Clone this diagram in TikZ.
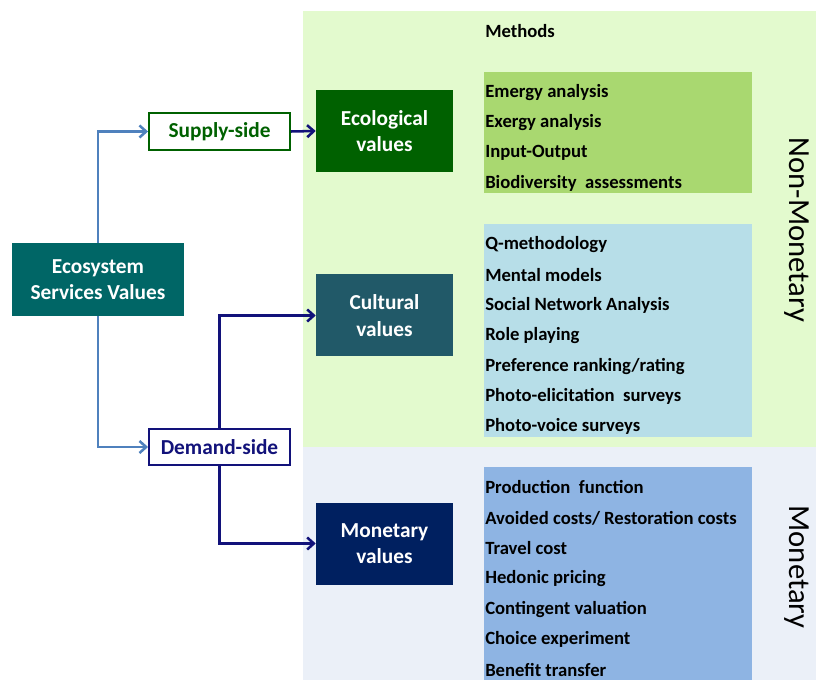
\documentclass[tikz,border=0pt]{standalone}
\usepackage{fontspec}
\setmainfont{Carlito}
\usepackage{xcolor}
\usetikzlibrary{arrows.meta}

\definecolor{panelgreen}{HTML}{E3FACE}
\definecolor{panelblue}{HTML}{EBF0F8}
\definecolor{listgreen}{HTML}{A9D870}
\definecolor{listcyan}{HTML}{B7DEE8}
\definecolor{listblue}{HTML}{8EB4E3}
\definecolor{ecogreen}{HTML}{006100}
\definecolor{culteal}{HTML}{215968}
\definecolor{monnavy}{HTML}{002060}
\definecolor{esvteal}{HTML}{006666}
\definecolor{linkblue}{HTML}{4F81BD}
\definecolor{linknavy}{HTML}{12127A}

\begin{document}
\begin{tikzpicture}[x=0.75pt, y=-0.75pt,
    valbox/.style={rectangle, text=white, font=\fontsize{16}{20}\selectfont\bfseries, align=center, minimum width=102.75pt, minimum height=61.5pt, inner sep=0pt},
    sidebox/.style={rectangle, draw, fill=white, line width=1.8pt, font=\fontsize{16}{20}\selectfont\bfseries, minimum width=105.4pt, minimum height=27.4pt, inner sep=0pt},
    method/.style={anchor=west, font=\fontsize{14}{16}\selectfont\bfseries, inner sep=0pt},
    sidelabel/.style={rotate=-90, font=\fontsize{23}{26}\selectfont},
    link/.style={-{Straight Barb[length=5pt, width=9pt]}, line width=1.9pt}
]
\useasboundingbox (0,0) rectangle (816,680);
% panels
\fill[panelgreen] (303,11) rectangle (816,447);
\fill[panelblue] (303,447) rectangle (816,680);
\fill[listgreen] (484,72) rectangle (752,193);
\fill[listcyan] (484,224) rectangle (752,437);
\fill[listblue] (484,467) rectangle (752,680);

\node[method] (methods) at (485,31) {Methods};
\node[sidelabel] (nonmon) at (797,230) {Non-Monetary};
\node[sidelabel] (mon) at (797,567) {Monetary};

% value boxes
\node[rectangle, fill=esvteal, text=white, font=\fontsize{16}{20}\selectfont\bfseries, align=center, minimum width=129pt, minimum height=54.75pt] (esv) at (98,279.5) {Ecosystem\\Services Values};
\node[sidebox, draw=ecogreen, text=ecogreen] (supply) at (219.5,131.5) {Supply-side};
\node[sidebox, draw=linknavy, text=linknavy] (demand) at (219.5,447) {Demand-side};
\node[valbox, fill=ecogreen] (eco) at (384.5,131) {Ecological\\values};
\node[valbox, fill=culteal] (cult) at (384.5,315.5) {Cultural\\values};
\node[valbox, fill=monnavy] (monval) at (384.5,543.5) {Monetary\\values};

% methods lists
\foreach \t [count=\k] in {Emergy analysis, Exergy analysis, Input-Output, Biodiversity\ \ assessments}
  \node[method] (eco\k) at (485,{92.5+(\k-1)*30.4}) {\t};
\foreach \t [count=\k] in {Q-methodology, Mental models, Social Network Analysis, Role playing, Preference ranking/rating, Photo-elicitation\ \ surveys, Photo-voice surveys}
  \node[method] (cult\k) at (485,{244.5+(\k-1)*30.4}) {\t};
\foreach \t [count=\k] in {Production\ \ function, Avoided costs/ Restoration costs, Travel cost, Hedonic pricing, Contingent valuation, Choice experiment, Benefit transfer}
  \node[method] (mon\k) at (485,{487.5+(\k-1)*30.4}) {\t};

% connectors
\draw[link, linkblue] (esv.north) |- (supply.west);
\draw[link, linkblue] (esv.south) |- (demand.west);
\draw[link, linknavy] (supply.east) -- (eco.west);
\draw[link, linknavy] (demand.north) |- (cult.west);
\draw[link, linknavy] (demand.south) |- (monval.west);
\end{tikzpicture}
\end{document}
